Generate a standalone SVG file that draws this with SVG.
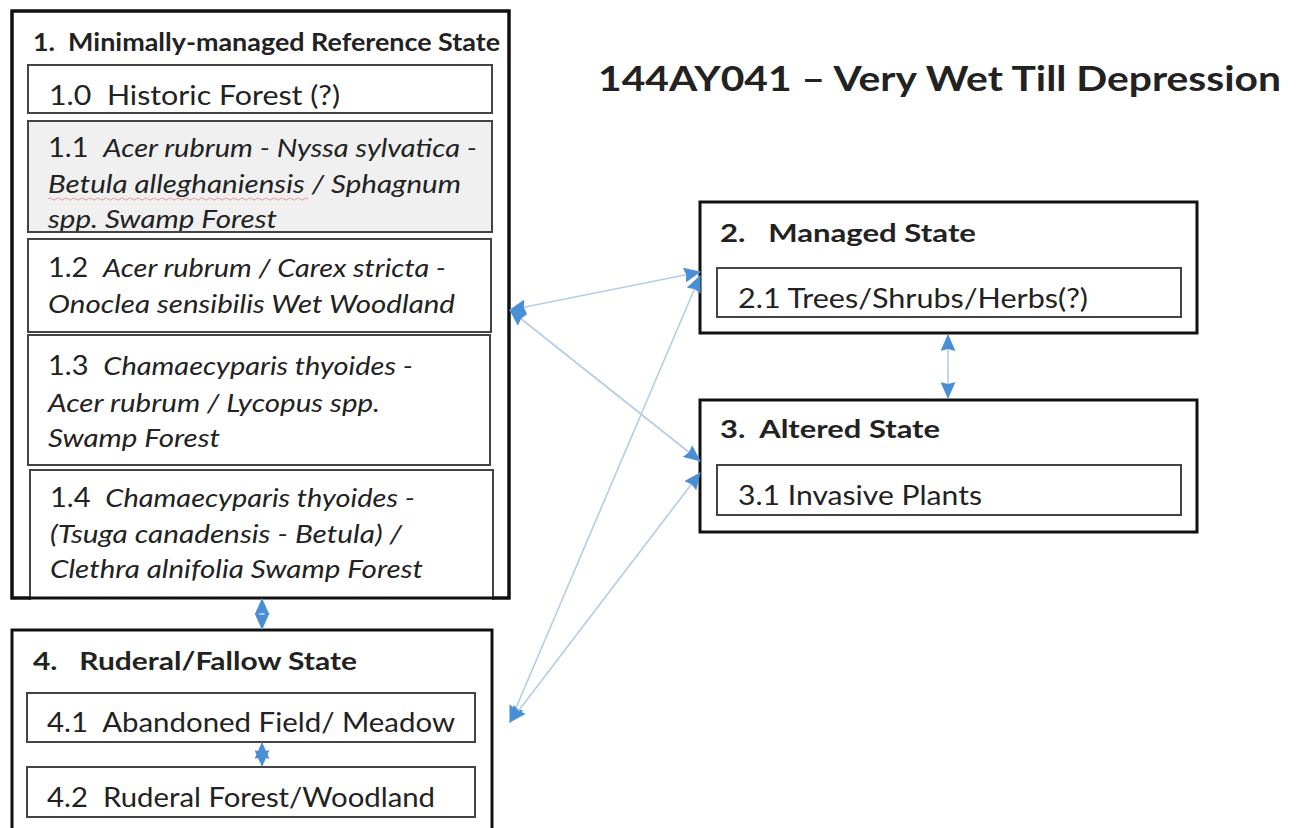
<svg xmlns="http://www.w3.org/2000/svg" width="1296" height="828" viewBox="0 0 1296 828" xml:space="preserve">
<defs>
<marker id="ah" viewBox="0 0 17 15" refX="16" refY="7.5" markerWidth="17" markerHeight="15" markerUnits="userSpaceOnUse" orient="auto-start-reverse">
<path d="M0,0 L17,7.5 L0,15 L2,7.5 Z" fill="#4a8fd6"/>
</marker>
</defs>
<style>
text{font-family:Lato,"Liberation Sans",sans-serif;fill:#222;font-size:26px;white-space:pre}
.b{font-weight:bold;font-size:25px}
.t{font-weight:bold;font-size:35px}
.i{font-style:italic}
.outer{fill:#fff;stroke:#111;stroke-width:3}
.inner{fill:#fff;stroke:#444;stroke-width:2}
.gray{fill:#f0f0f0;stroke:#444;stroke-width:2}
.con{fill:none;stroke:#b4cde6;stroke-width:1.6;marker-start:url(#ah);marker-end:url(#ah)}
</style>
<rect width="1296" height="828" fill="#fff"/>
<text id="title" class="t" x="598" y="91" textLength="683" lengthAdjust="spacingAndGlyphs">144AY041 – Very Wet Till Depression</text>

<g id="state1">
<rect class="outer" x="12" y="11" width="497" height="587"/>
<text class="b" x="33" y="51" textLength="467" lengthAdjust="spacingAndGlyphs">1.  Minimally-managed Reference State</text>
<g id="c10">
<rect class="inner" x="28" y="65" width="464" height="48"/>
<text x="49" y="105" textLength="291" lengthAdjust="spacingAndGlyphs">1.0  Historic Forest (?)</text>
</g>
<g id="c11">
<rect class="gray" x="28" y="121" width="464" height="111"/>
<text x="48" y="157" textLength="429" lengthAdjust="spacingAndGlyphs">1.1  <tspan class="i">Acer rubrum - Nyssa sylvatica -</tspan></text>
<text class="i" x="48" y="193" textLength="413" lengthAdjust="spacingAndGlyphs">Betula alleghaniensis / Sphagnum</text>
<path d="M48,199 q2,-2 4,0 t4,0 t4,0 t4,0 t4,0 t4,0 t4,0 t4,0 t4,0 t4,0 t4,0 t4,0 t4,0 t4,0 t4,0 t4,0 t4,0 t4,0 t4,0 t4,0 t4,0 t4,0 t4,0 t4,0 t4,0 t4,0 t4,0 t4,0 t4,0 t4,0 t4,0 t4,0 t4,0 t4,0 t4,0 t4,0 t4,0 t4,0 t4,0 t4,0 t4,0 t4,0 t4,0 t4,0 t4,0 t4,0 t4,0 t4,0 t4,0 t4,0 t4,0 t4,0 t4,0 t4,0 t4,0 t4,0 t4,0 t4,0 t4,0 t4,0 t4,0 t4,0 t4,0 t4,0 t4,0" fill="none" stroke="#e06070" stroke-width="1" opacity="0.6"/>
<text class="i" x="48" y="228" textLength="229" lengthAdjust="spacingAndGlyphs">spp. Swamp Forest</text>
<rect x="28" y="121" width="464" height="111" fill="none" stroke="#444" stroke-width="2"/>
</g>
<g id="c12">
<rect class="inner" x="28" y="239" width="463" height="93"/>
<text x="48" y="277" textLength="398" lengthAdjust="spacingAndGlyphs">1.2  <tspan class="i">Acer rubrum / Carex stricta -</tspan></text>
<text class="i" x="48" y="313" textLength="407" lengthAdjust="spacingAndGlyphs">Onoclea sensibilis Wet Woodland</text>
</g>
<g id="c13">
<rect class="inner" x="28" y="335" width="462" height="130"/>
<text x="48" y="375" textLength="365" lengthAdjust="spacingAndGlyphs">1.3  <tspan class="i">Chamaecyparis thyoides -</tspan></text>
<text class="i" x="48" y="412" textLength="332" lengthAdjust="spacingAndGlyphs">Acer rubrum / Lycopus spp.</text>
<text class="i" x="48" y="447" textLength="172" lengthAdjust="spacingAndGlyphs">Swamp Forest</text>
</g>
<g id="c14">
<rect class="inner" x="30" y="470" width="463" height="140"/>
<text x="50" y="507" textLength="365" lengthAdjust="spacingAndGlyphs">1.4  <tspan class="i">Chamaecyparis thyoides -</tspan></text>
<text class="i" x="50" y="543" textLength="352" lengthAdjust="spacingAndGlyphs">(Tsuga canadensis - Betula) /</text>
<text class="i" x="50" y="578" textLength="373" lengthAdjust="spacingAndGlyphs">Clethra alnifolia Swamp Forest</text>
</g>
<rect x="12" y="11" width="497" height="587" fill="none" stroke="#111" stroke-width="3"/>
<rect x="0" y="600" width="520" height="28" fill="#fff"/>
</g>

<g id="state4">
<rect class="outer" x="12" y="630" width="480" height="220"/>
<text class="b" x="33" y="670" textLength="324" lengthAdjust="spacingAndGlyphs">4.   Ruderal/Fallow State</text>
<g id="c41">
<rect class="inner" x="27" y="693" width="448" height="49"/>
<text x="47" y="732" textLength="408" lengthAdjust="spacingAndGlyphs">4.1  Abandoned Field/ Meadow</text>
</g>
<g id="c42">
<rect class="inner" x="27" y="767" width="448" height="50"/>
<text x="47" y="807" textLength="388" lengthAdjust="spacingAndGlyphs">4.2  Ruderal Forest/Woodland</text>
</g>
</g>

<g id="state2">
<rect class="outer" x="700" y="202" width="497" height="131"/>
<text class="b" x="720" y="242" textLength="256" lengthAdjust="spacingAndGlyphs">2.   Managed State</text>
<g id="c21">
<rect class="inner" x="717" y="268" width="464" height="49"/>
<text x="738" y="308" textLength="350" lengthAdjust="spacingAndGlyphs">2.1 Trees/Shrubs/Herbs(?)</text>
</g>
</g>

<g id="state3">
<rect class="outer" x="700" y="400" width="497" height="132"/>
<text class="b" x="720" y="438" textLength="220" lengthAdjust="spacingAndGlyphs">3.  Altered State</text>
<g id="c31">
<rect class="inner" x="717" y="465" width="464" height="50"/>
<text x="738" y="505" textLength="244" lengthAdjust="spacingAndGlyphs">3.1 Invasive Plants</text>
</g>
</g>

<g id="connectors">
<line class="con" x1="510" y1="310" x2="700" y2="272"/>
<line class="con" x1="510" y1="310" x2="700" y2="461"/>
<line class="con" x1="510" y1="722" x2="700" y2="276"/>
<line class="con" x1="510" y1="722" x2="700" y2="473"/>
<line class="con" x1="948" y1="335" x2="948" y2="398"/>
<line class="con" x1="262" y1="599" x2="262" y2="629"/>
<line class="con" x1="262" y1="743" x2="262" y2="766"/>
</g>
</svg>
